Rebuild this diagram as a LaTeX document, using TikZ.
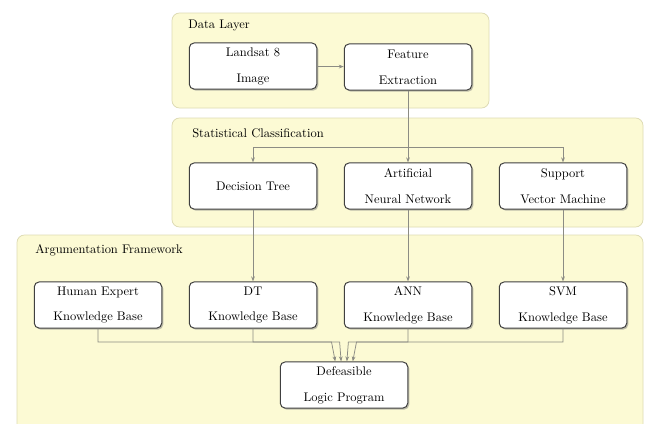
\documentclass[tikz,border=0pt]{standalone}
\usetikzlibrary{arrows.meta,shadows}
\definecolor{layerfill}{HTML}{FCFAD4}
\definecolor{layerline}{HTML}{DEDBB4}
\definecolor{connline}{HTML}{8C8C84}
\begin{document}
\begin{tikzpicture}[x=0.8pt,y=-0.8pt,
    layer/.style={draw=layerline,fill=layerfill,rounded corners=6pt,line width=0.6pt},
    title/.style={anchor=west,inner sep=0pt},
    box/.style={draw=black!75,fill=white,rounded corners=4pt,line width=0.8pt,
      minimum width=102pt,minimum height=37pt,align=center,
      font=\linespread{1.73}\selectfont,
      drop shadow={shadow xshift=1.2pt,shadow yshift=-1.2pt,fill=black!50}},
    conn/.style={draw=connline,line width=0.6pt,-{Stealth[length=4pt,width=3pt]}}]
    \clip (0,0) rectangle (646,423);
    \fill[white] (0,0) rectangle (646,423);
    \draw[layer] (172,13) rectangle (489,108);
    \draw[layer] (172,118) rectangle (643,227);
    \draw[layer] (17,235) rectangle (643,440);
    \node[title] (tdata) at (188,26) {Data Layer};
    \node[title] (tstat) at (192,133) {Statistical Classification};
    \node[title] (targ) at (35,250) {Argumentation Framework};
    \node[box] (land) at (253,66) {Landsat 8\\Image};
    \node[box] (feat) at (408,67) {Feature\\Extraction};
    \node[box] (dt) at (253,186) {Decision Tree};
    \node[box] (ann) at (408,186) {Artificial\\Neural Network};
    \node[box] (svm) at (563,186) {Support\\Vector Machine};
    \node[box] (hekb) at (98,305) {Human Expert\\Knowledge Base};
    \node[box] (dtkb) at (253,305) {DT\\Knowledge Base};
    \node[box] (annkb) at (408,305) {ANN\\Knowledge Base};
    \node[box] (svmkb) at (563,305) {SVM\\Knowledge Base};
    \node[box] (dlp) at (344,385) {Defeasible\\Logic Program};
    \coordinate (split) at (408,147);
    \coordinate (bus) at (344,342);
    \draw[conn] (land) -- (feat);
    \draw[conn] (feat) -- (ann);
    \draw[conn] (split) -| (dt);
    \draw[conn] (split) -| (svm);
    \draw[conn] (dt) -- (dtkb);
    \draw[conn] (ann) -- (annkb);
    \draw[conn] (svm) -- (svmkb);
    \draw[conn] (hekb.south) |- ([xshift=-10pt]bus) -- ([xshift=-7pt]dlp.north);
    \draw[conn] (dtkb.south) |- ([xshift=-3.5pt]bus) -- ([xshift=-2.3pt]dlp.north);
    \draw[conn] (annkb.south) |- ([xshift=3.5pt]bus) -- ([xshift=2.3pt]dlp.north);
    \draw[conn] (svmkb.south) |- ([xshift=10pt]bus) -- ([xshift=7pt]dlp.north);
\end{tikzpicture}
\end{document}
